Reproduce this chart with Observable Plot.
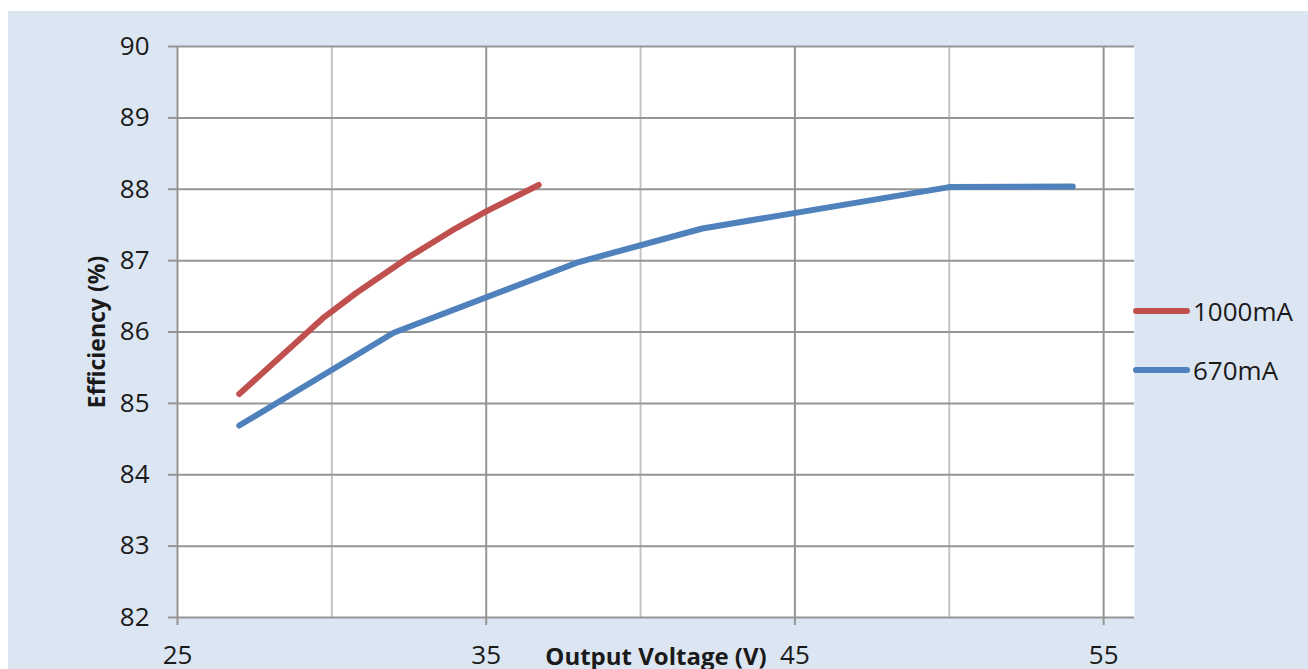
<!DOCTYPE html>
<html><head><meta charset="utf-8">
<script src="https://cdn.jsdelivr.net/npm/d3@7"></script>
<script src="https://cdn.jsdelivr.net/npm/@observablehq/plot@0.6"></script>
<style>
body{margin:0;background:#fff;}
#wrap{position:relative;width:1308px;height:669px;overflow:hidden;font-family:"Open Sans",sans-serif;}
#bg{position:absolute;left:8px;top:11px;right:0;bottom:0;background:#dce6f2;}
#chart{position:absolute;left:0;top:0;}
.leg{position:absolute;left:1133px;display:flex;align-items:center;font-size:26px;line-height:36px;color:#1a1a1a;}
.sw{width:57px;height:6px;border-radius:3px;margin-right:3px;}
</style></head><body>
<div id="wrap"><div id="bg"></div><div id="chart"></div></div>
<script>
// Data
const seriesNames = ["1000mA", "670mA"];
const seriesColors = ["#c0504d", "#4f81bd"];
const v1000 = [27, 29.7, 30.8, 32.5, 34, 35, 36.7];
const e1000 = [85.13, 86.19, 86.55, 87.05, 87.45, 87.69, 88.06];
const v670 = [27, 32, 38, 42, 50, 54];
const e670 = [84.69, 85.99, 86.98, 87.45, 88.03, 88.04];
const xMajor = [25, 35, 45, 55];
const xMinor = [30, 40, 50];
const yTicks = [82, 83, 84, 85, 86, 87, 88, 89, 90];
const xLabel = "Output Voltage (V)";
const yLabel = "Efficiency (%)";

const d1000 = v1000.map((v, i) => ({v, e: e1000[i]}));
const d670 = v670.map((v, i) => ({v, e: e670[i]}));

const gridColor = "#959595";
const plot = Plot.plot({
  width: 1308, height: 669,
  marginLeft: 177, marginRight: 174, marginTop: 46, marginBottom: 52,
  style: {background: "transparent", fontFamily: "'Open Sans', sans-serif", color: "#1a1a1a"},
  x: {domain: [25, 56]},
  y: {domain: [82, 90]},
  marks: [
    Plot.frame({fill: "white", stroke: null}),
    Plot.gridX(xMinor, {stroke: "#c4c4c4", strokeOpacity: 1, strokeWidth: 2}),
    Plot.gridX(xMajor, {stroke: gridColor, strokeOpacity: 1, strokeWidth: 2}),
    Plot.gridY(yTicks, {stroke: gridColor, strokeOpacity: 1, strokeWidth: 2}),
    Plot.axisX(xMajor, {tickSize: 8, tickPadding: 20, stroke: gridColor, strokeWidth: 2, fontSize: 26, label: null, tickFormat: d => String(d)}),
    Plot.axisY(yTicks, {tickSize: 9, tickPadding: 19, stroke: gridColor, strokeWidth: 2, fontSize: 26, label: null, tickFormat: d => String(d)}),
    Plot.line(d1000, {x: "v", y: "e", stroke: seriesColors[0], strokeWidth: 6, strokeLinecap: "round", strokeLinejoin: "round"}),
    Plot.line(d670, {x: "v", y: "e", stroke: seriesColors[1], strokeWidth: 6, strokeLinecap: "round", strokeLinejoin: "round"}),
    Plot.text([xLabel], {frameAnchor: "bottom", dy: 40, lineAnchor: "middle", fontWeight: "bold", fontSize: 24, fill: "#1a1a1a"}),
    Plot.text([yLabel], {frameAnchor: "left", dx: -80, rotate: -90, textAnchor: "middle", lineAnchor: "middle", fontWeight: "bold", fontSize: 23, fill: "#1a1a1a"})
  ]
});
document.getElementById("chart").appendChild(plot);

const wrap = document.getElementById("wrap");
const legTops = [293, 352];
seriesNames.forEach((name, i) => {
  const d = document.createElement("div");
  d.className = "leg";
  d.style.top = legTops[i] + "px";
  const sw = document.createElement("div");
  sw.className = "sw";
  sw.style.background = seriesColors[i];
  const t = document.createElement("span");
  t.textContent = name;
  d.appendChild(sw); d.appendChild(t);
  wrap.appendChild(d);
});
</script>
</body></html>
